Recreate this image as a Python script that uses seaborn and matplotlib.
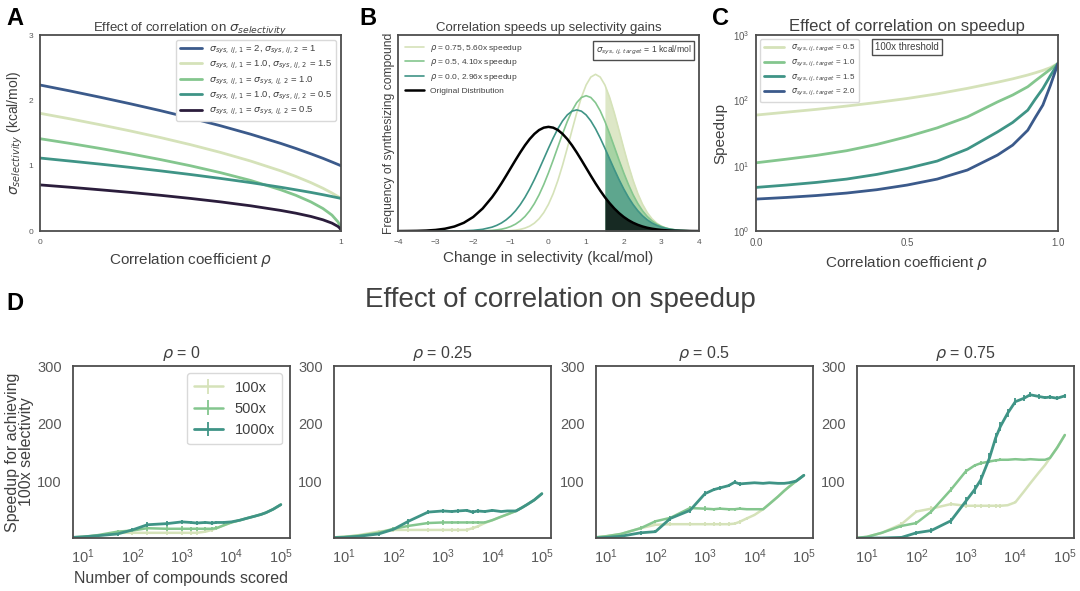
import matplotlib
matplotlib.use("Agg")
import matplotlib.pyplot as plt
import seaborn as sns
import pandas as pd

sns.set_theme(style="white")
plt.rcParams["font.family"] = ["Liberation Sans", "DejaVu Sans"]
plt.rcParams["mathtext.fontset"] = "dejavusans"
plt.rcParams["axes.edgecolor"] = "0.3"
plt.rcParams["axes.linewidth"] = 1.3
plt.rcParams["text.color"] = "0.25"
plt.rcParams["axes.labelcolor"] = "0.25"
plt.rcParams["xtick.color"] = "0.35"
plt.rcParams["ytick.color"] = "0.35"
plt.rcParams["xtick.major.size"] = 0
plt.rcParams["ytick.major.size"] = 0

LIGHT = "#d5e2b9"
GREEN = "#84c68e"
TEAL = "#3f9486"
NAVY = "#3b5a8b"
PURPLE = "#2b1d3c"

# ---------------- panel A: sigma_selectivity vs rho
rho_a = [0, 0.1, 0.2, 0.3, 0.4, 0.5, 0.6, 0.7, 0.8, 0.85, 0.9, 0.94, 0.97, 0.99, 0.995, 1.0]
sig_2_1 = [2.236, 2.145, 2.049, 1.949, 1.844, 1.732, 1.612, 1.483, 1.342, 1.265, 1.183, 1.114, 1.058, 1.020, 1.010, 1.0]
sig_1_15 = [1.803, 1.718, 1.628, 1.533, 1.432, 1.323, 1.204, 1.072, 0.922, 0.837, 0.742, 0.656, 0.583, 0.529, 0.515, 0.5]
sig_1_1 = [1.414, 1.342, 1.265, 1.183, 1.095, 1.0, 0.894, 0.775, 0.632, 0.548, 0.447, 0.346, 0.245, 0.141, 0.1, 0.04]
sig_1_05 = [1.118, 1.072, 1.025, 0.975, 0.922, 0.866, 0.806, 0.742, 0.671, 0.632, 0.592, 0.557, 0.529, 0.510, 0.505, 0.5]
sig_05_05 = [0.707, 0.671, 0.632, 0.592, 0.548, 0.5, 0.447, 0.387, 0.316, 0.274, 0.224, 0.173, 0.122, 0.071, 0.05, 0.02]
labels_a = [
    r"$\sigma_{sys,\,ij,\,1}$ = 2, $\sigma_{sys,\,ij,\,2}$ = 1",
    r"$\sigma_{sys,\,ij,\,1}$ = 1.0, $\sigma_{sys,\,ij,\,2}$ = 1.5",
    r"$\sigma_{sys,\,ij,\,1}$ = $\sigma_{sys,\,ij,\,2}$ = 1.0",
    r"$\sigma_{sys,\,ij,\,1}$ = 1.0, $\sigma_{sys,\,ij,\,2}$ = 0.5",
    r"$\sigma_{sys,\,ij,\,1}$ = $\sigma_{sys,\,ij,\,2}$ = 0.5",
]

# ---------------- panel B: selectivity distributions
x_b = [-4, -3.75, -3.5, -3.25, -3, -2.75, -2.5, -2.25, -2, -1.75, -1.5,
       -1.375, -1.25, -1.125, -1, -0.875, -0.75, -0.625, -0.5, -0.375, -0.25, -0.125,
       0, 0.125, 0.25, 0.375, 0.5, 0.625, 0.75, 0.875, 1, 1.125, 1.25, 1.375, 1.5, 1.625,
       1.75, 1.875, 2, 2.125, 2.25, 2.375, 2.5, 2.625, 2.75, 2.875, 3, 3.125, 3.25, 3.375, 3.5,
       3.75, 4]
dens_orig = [0.0001, 0.0004, 0.0009, 0.0020, 0.0044, 0.0091, 0.0175, 0.0317, 0.0540, 0.0863, 0.1295,
             0.1550, 0.1826, 0.2119, 0.2420, 0.2720, 0.3011, 0.3282, 0.3521, 0.3718, 0.3867, 0.3958,
             0.3989, 0.3958, 0.3867, 0.3718, 0.3521, 0.3282, 0.3011, 0.2720, 0.2420, 0.2119, 0.1826,
             0.1550, 0.1295, 0.1066, 0.0863, 0.0688, 0.0540, 0.0417, 0.0317, 0.0238, 0.0175, 0.0127,
             0.0091, 0.0064, 0.0044, 0.0030, 0.0020, 0.0013, 0.0009, 0.0004, 0.0001]
dens_r00 = [0, 0, 0, 0, 0, 0.0001, 0.0004, 0.0011, 0.0028, 0.0068, 0.0151,
            0.0219, 0.0310, 0.0431, 0.0585, 0.0778, 0.1013, 0.1292, 0.1613, 0.1971, 0.2359, 0.2764,
            0.3171, 0.3562, 0.3917, 0.4217, 0.4446, 0.4589, 0.4638, 0.4589, 0.4446, 0.4217, 0.3917,
            0.3562, 0.3171, 0.2764, 0.2359, 0.1971, 0.1613, 0.1292, 0.1013, 0.0778, 0.0585, 0.0431,
            0.0310, 0.0219, 0.0151, 0.0103, 0.0068, 0.0044, 0.0028, 0.0011, 0.0004]
dens_r05 = [0, 0, 0, 0, 0, 0, 0, 0.0001, 0.0003, 0.0009, 0.0027,
            0.0045, 0.0072, 0.0115, 0.0178, 0.0267, 0.0392, 0.0559, 0.0777, 0.1052, 0.1387, 0.1782,
            0.2229, 0.2716, 0.3224, 0.3727, 0.4196, 0.4602, 0.4915, 0.5113, 0.5181, 0.5113, 0.4915,
            0.4602, 0.4196, 0.3727, 0.3224, 0.2716, 0.2229, 0.1782, 0.1387, 0.1052, 0.0777, 0.0559,
            0.0392, 0.0267, 0.0178, 0.0115, 0.0072, 0.0045, 0.0027, 0.0009, 0.0003]
dens_r075 = [0, 0, 0, 0, 0, 0, 0, 0, 0, 0, 0.0001,
             0.0002, 0.0005, 0.0010, 0.0020, 0.0036, 0.0065, 0.0113, 0.0188, 0.0303, 0.0472, 0.0708,
             0.1025, 0.1434, 0.1937, 0.2524, 0.3176, 0.3857, 0.4522, 0.5117, 0.5590, 0.5894, 0.5999,
             0.5894, 0.5590, 0.5117, 0.4522, 0.3857, 0.3176, 0.2524, 0.1937, 0.1434, 0.1025, 0.0708,
             0.0472, 0.0303, 0.0188, 0.0113, 0.0065, 0.0036, 0.0020, 0.0005, 0.0001]
threshold_b = 1.5

# ---------------- panel C: speedup vs rho (log)
rho_c = [0, 0.1, 0.2, 0.3, 0.4, 0.5, 0.6, 0.7, 0.8, 0.85, 0.9, 0.925, 0.95, 0.975, 1.0]
speed_05 = [59.7, 66, 73, 82, 93, 107, 126, 153, 190, 214, 245, 265, 288, 318, 368]
speed_10 = [11.1, 12.6, 14.4, 17, 21.2, 27.8, 38, 56, 95, 121, 162, 200, 245, 300, 368]
speed_15 = [4.66, 5.06, 5.56, 6.25, 7.37, 9.1, 11.8, 18, 33, 46, 71, 105, 152, 240, 368]
speed_20 = [3.09, 3.27, 3.5, 3.82, 4.3, 5.06, 6.25, 8.6, 14.6, 20.7, 35, 55, 85, 170, 368]

# ---------------- panel D: speedup vs number of compounds scored
n_scored = [6, 10, 20, 50, 100, 200, 500, 1000, 1500, 2000, 3000, 4000, 5000, 7000, 10000,
            15000, 20000, 30000, 40000, 50000, 70000, 100000]
rho_titles = ["0", "0.25", "0.5", "0.75"]
top_labels = ["100x", "500x", "1000x"]

d_r000_100 = [2, 3, 5, 10, 10, 10, 10, 10, 10, 10, 12, 15, 18, 23, 28, 32, 35, 39, 42, 45, 51, 59]
d_r000_500 = [2, 3, 6, 12, 14, 18, 17, 17, 17, 17, 17, 17, 18, 23, 28, 32, 35, 39, 42, 45, 51, 59]
d_r000_1000 = [2, 3, 5, 8, 15, 24, 26, 29, 28, 27, 28, 27, 28, 28, 29, 32, 35, 39, 42, 45, 51, 59]

d_r025_100 = [2, 3, 6, 12, 15, 15, 15, 15, 15, 15, 15, 18, 21, 27, 32, 38, 42, 48, 54, 59, 67, 78]
d_r025_500 = [2, 3, 5, 10, 17, 22, 27, 28, 28, 28, 28, 28, 28, 28, 32, 38, 42, 48, 54, 59, 67, 78]
d_r025_1000 = [1.5, 2, 4, 8, 16, 30, 46, 48, 47, 48, 49, 46, 48, 47, 49, 47, 48, 48, 54, 59, 67, 78]

d_r050_100 = [2, 4, 8, 18, 24, 25, 25, 25, 25, 25, 25, 26, 29, 35, 41, 51, 60, 73, 83, 90, 100, 110]
d_r050_500 = [2, 4, 8, 18, 30, 36, 53, 52, 51, 52, 51, 51, 52, 51, 51, 51, 60, 73, 83, 90, 100, 110]
d_r050_1000 = [1, 2, 4, 10, 12, 35, 49, 78, 85, 88, 92, 98, 95, 96, 97, 96, 97, 96, 96, 97, 100, 110]

d_r075_100 = [1, 3, 10, 25, 47, 52, 60, 57, 57, 57, 57, 57, 57, 58, 63, 82, 96, 115, 128, 140, 158, 180]
d_r075_500 = [1, 3, 10, 22, 27, 47, 85, 117, 127, 131, 134, 136, 137, 137, 138, 137, 138, 137, 137, 140, 158, 180]
d_r075_1000 = [0.5, 1, 1, 2, 10, 14, 31, 65, 85, 102, 140, 175, 195, 218, 238, 244, 250, 247, 245, 246, 244, 248]

err_small = [0, 1, 1, 3, 3, 4, 4, 4, 3, 3, 3, 3, 3, 2, 2, 1, 1, 1, 0, 0, 0, 0]
err_big = [0, 1, 1, 2, 3, 4, 5, 7, 8, 9, 9, 9, 8, 7, 6, 5, 4, 4, 3, 3, 3, 3]

fig = plt.figure(figsize=(10.8, 5.91), dpi=100)

# ---- A
axA = fig.add_axes([0.037, 0.609, 0.2787, 0.3316])
for ys, col, lab in zip([sig_2_1, sig_1_15, sig_1_1, sig_1_05, sig_05_05],
                        [NAVY, LIGHT, GREEN, TEAL, PURPLE], labels_a):
    sns.lineplot(x=rho_a, y=ys, color=col, lw=2, label=lab, ax=axA)
axA.set_xlim(0, 1)
axA.set_ylim(0, 3)
axA.set_xticks([0, 1])
axA.set_yticks([0, 1, 2, 3])
axA.tick_params(labelsize=6)
axA.tick_params(axis="x", pad=5.5)
axA.tick_params(axis="y", pad=5)
axA.set_xlabel(r"Correlation coefficient $\rho$", fontsize=11)
axA.set_ylabel(r"$\sigma_{selectivity}$ (kcal/mol)", fontsize=10, labelpad=2)
axA.set_title(r"Effect of correlation on $\sigma_{selectivity}$", fontsize=9.5, pad=3)
axA.legend(loc="upper right", fontsize=6.8, handlelength=2.3, labelspacing=0.35, borderpad=0.4,
           framealpha=1, edgecolor="0.85")

# ---- B
axB = fig.add_axes([0.3685, 0.609, 0.2787, 0.3316])
dfB = pd.DataFrame({"x": x_b, "orig": dens_orig, "r00": dens_r00, "r05": dens_r05, "r075": dens_r075})
tail = dfB["x"] >= threshold_b
for col_name, col, lab, lw in [("r075", LIGHT, r"$\rho$ = 0.75, 5.60x speedup", 1.2),
                               ("r05", GREEN, r"$\rho$ = 0.5, 4.10x speedup", 1.2),
                               ("r00", TEAL, r"$\rho$ = 0.0, 2.96x speedup", 1.2),
                               ("orig", "black", "Original Distribution", 1.8)]:
    sns.lineplot(data=dfB, x="x", y=col_name, color=col, lw=lw, label=lab, ax=axB)
for col_name, col, a in [("r075", LIGHT, 0.8), ("r05", GREEN, 0.6), ("r00", TEAL, 0.7), ("orig", "black", 0.75)]:
    axB.fill_between(dfB["x"][tail], 0, dfB[col_name][tail], color=col, alpha=a, lw=0)
axB.set_xlim(-4, 4)
axB.set_ylim(0, 0.75)
axB.set_yticks([])
axB.set_xticks(range(-4, 5))
axB.set_xticklabels([str(v).replace("-", "\u2212") for v in range(-4, 5)])
axB.tick_params(labelsize=6, pad=5.5)
axB.set_xlabel("Change in selectivity (kcal/mol)", fontsize=11)
axB.set_ylabel("Frequency of synthesizing compound", fontsize=8.7, labelpad=2)
axB.set_title("Correlation speeds up selectivity gains", fontsize=9.5, pad=3)
axB.legend(loc="upper left", fontsize=6.0, frameon=False, handlelength=2.2, labelspacing=0.45,
           handletextpad=0.8)
axB.text(0.975, 0.955, r"$\sigma_{sys,\,ij,\,target}$ = 1 kcal/mol", transform=axB.transAxes,
         ha="right", va="top", fontsize=6.2,
         bbox=dict(boxstyle="square,pad=0.3", fc="white", ec="0.3", lw=1))

# ---- C
axC = fig.add_axes([0.700, 0.609, 0.2796, 0.3316])
for ys, col, lab in zip([speed_05, speed_10, speed_15, speed_20], [LIGHT, GREEN, TEAL, NAVY],
                        ["0.5", "1.0", "1.5", "2.0"]):
    sns.lineplot(x=rho_c, y=ys, color=col, lw=2, label=r"$\sigma_{sys,\,ij,\,target}$ = " + lab, ax=axC)
axC.set_yscale("log")
axC.set_ylim(1, 1000)
axC.set_xlim(0, 1)
axC.set_xticks([0, 0.5, 1])
axC.set_xticklabels(["0.0", "0.5", "1.0"])
axC.minorticks_off()
axC.tick_params(labelsize=7, pad=5)
axC.set_xlabel(r"Correlation coefficient $\rho$", fontsize=11)
axC.set_ylabel("Speedup", fontsize=11, labelpad=3.5)
axC.set_title("Effect of correlation on speedup", fontsize=12, pad=3)
axC.legend(loc="upper left", fontsize=5.8, handlelength=2.5, labelspacing=0.45, borderpad=0.5,
           framealpha=1, edgecolor="0.85")
axC.text(0.5, 0.94, "100x threshold", transform=axC.transAxes, ha="center", va="center", fontsize=7,
         bbox=dict(boxstyle="square,pad=0.3", fc="white", ec="0.3", lw=1))

# ---- D
d_series = [
    (d_r000_100, d_r000_500, d_r000_1000),
    (d_r025_100, d_r025_500, d_r025_1000),
    (d_r050_100, d_r050_500, d_r050_1000),
    (d_r075_100, d_r075_500, d_r075_1000),
]
lefts = [0.0676, 0.3093, 0.5519, 0.7935]
for i, (left, series) in enumerate(zip(lefts, d_series)):
    ax = fig.add_axes([left, 0.0897, 0.2005, 0.291])
    for j, (ys, col, lab) in enumerate(zip(series, [LIGHT, GREEN, TEAL], top_labels)):
        err = err_big if (i == 3 and j == 2) else err_small
        ax.errorbar(n_scored, ys, yerr=err, color=col, lw=2 if j == 2 else 1.8, elinewidth=1.3,
                    capsize=0, label=lab)
    ax.set_xscale("log")
    ax.set_xlim(6.3, 1.5e5)
    ax.set_ylim(1, 300)
    ax.set_yticks([100, 200, 300])
    ax.set_xticks([10, 100, 1000, 10000, 100000])
    ax.minorticks_off()
    ax.tick_params(labelsize=10.5)
    ax.tick_params(axis="x", pad=6.5)
    ax.tick_params(axis="y", pad=8)
    ax.set_title(r"$\rho$ = " + rho_titles[i], fontsize=11.5)
    if i == 0:
        ax.set_ylabel("Speedup for achieving\n100x selectivity", fontsize=11.5, linespacing=0.95, labelpad=2)
        ax.set_xlabel("Number of compounds scored", fontsize=11.5)
        ax.legend(loc="upper right", fontsize=10.5, framealpha=1, edgecolor="0.85", borderpad=0.5)

fig.text(0.5185, 0.481, "Effect of correlation on speedup", ha="center", va="baseline", fontsize=20,
         color="0.25")

for lab, x, y in [("A", 0.006, 0.958), ("B", 0.333, 0.958), ("C", 0.659, 0.958), ("D", 0.006, 0.4755)]:
    fig.text(x, y, lab, fontsize=17, fontweight="bold", color="black", va="baseline")

fig.savefig("out.png", dpi=100)
